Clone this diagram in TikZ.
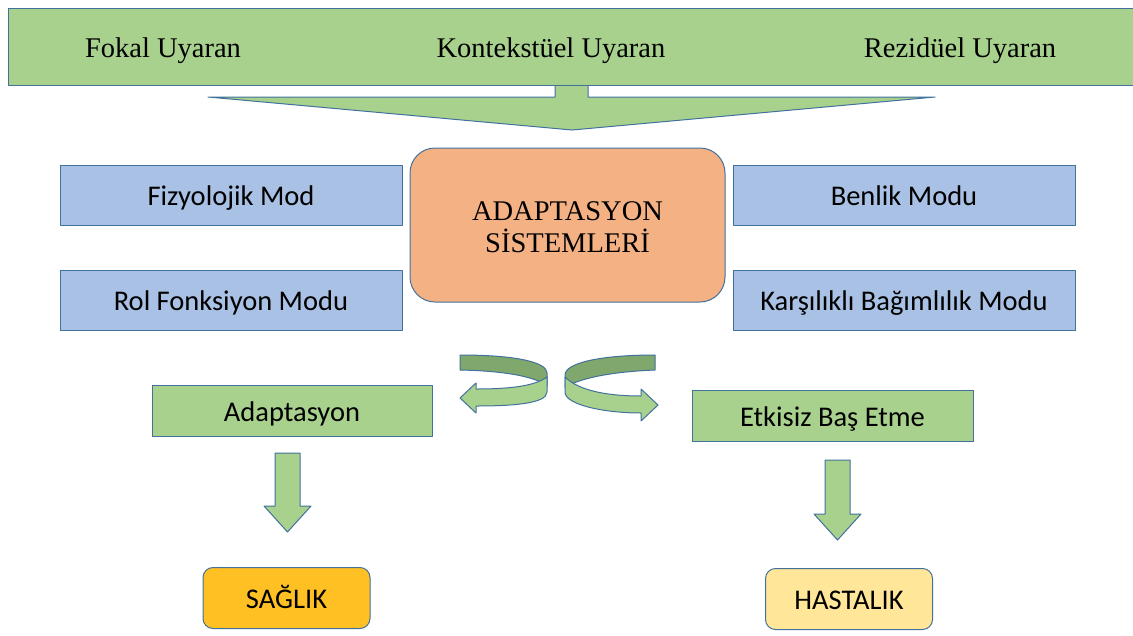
\documentclass[tikz,border=0pt]{standalone}
\usepackage{fontspec}
\setmainfont{Liberation Serif}
\newfontfamily\calib{Carlito}
\definecolor{gfill}{HTML}{A9D18E}
\definecolor{bfill}{HTML}{A9C1E4}
\definecolor{ofill}{HTML}{F4B183}
\definecolor{edgec}{HTML}{41719C}
\definecolor{dkg}{HTML}{80A86C}
\definecolor{yfill}{HTML}{FFC023}
\definecolor{lyfill}{HTML}{FFE699}
\begin{document}
\begin{tikzpicture}[x=1pt,y=-1pt,
  every node/.style={inner sep=0pt, outer sep=0pt},
  shp/.style={draw=edgec, line width=1pt, line join=round},
  sansfont/.style={font=\calib\fontsize{28.5}{32}\selectfont, text height=23pt, text depth=2pt},
  bluebox/.style={shp, sansfont, fill=bfill, minimum width=342pt, minimum height=60pt},
  greenbox/.style={shp, sansfont, fill=gfill, minimum height=51pt},
  endbox/.style={shp, sansfont, rounded corners=10pt, minimum width=167pt, minimum height=61pt},
  stxt/.style={font=\fontsize{28.5}{32}\selectfont, anchor=base},
  blockarrow/.style={shp, fill=gfill}]
\useasboundingbox (0,0) rectangle (1133,635);
% big top arrow
\draw[blockarrow] (555,84) -- (555,97) -- (208,97) -- (572,130) -- (935,97) -- (588,97) -- (588,84);
% banner
\node[shp, fill=gfill, minimum width=1140pt, minimum height=77pt, anchor=north west] (banner) at (8,8) {};
\node[stxt] (fokal) at (163,57) {Fokal Uyaran};
\node[stxt] (kontekst) at (551,57) {Kontekstüel Uyaran};
\node[stxt] (rezid) at (960,57) {Rezidüel Uyaran};
% modes
\node[bluebox] (fiz) at (231,195) {Fizyolojik Mod};
\node[bluebox] (rol) at (231,300) {Rol Fonksiyon Modu};
\node[bluebox] (benlik) at (904,195) {Benlik Modu};
\node[bluebox] (karsi) at (904,300) {Karşılıklı Bağımlılık Modu};
\node[shp, fill=ofill, rounded corners=25pt, minimum width=315pt, minimum height=154pt,
      align=center, font=\fontsize{28.5}{32}\selectfont] (sys) at (567.5,225) {\rule{0pt}{24pt}ADAPTASYON\\SİSTEMLERİ};
% outcomes
\node[greenbox, minimum width=280pt] (adapt) at (292,411) {Adaptasyon};
\node[greenbox, minimum width=281pt] (etkisiz) at (832.5,416) {Etkisiz Baş Etme};
\node[endbox, fill=yfill] (saglik) at (286.5,598) {SAĞLIK};
\node[endbox, fill=lyfill] (hasta) at (849,599) {HASTALIK};
% down arrows
\draw[blockarrow] (275,453) -- (300,453) -- (300,506) -- (311,506) -- (287.5,532) -- (264,506) -- (275,506) -- cycle;
\draw[blockarrow] (825,460) -- (850,460) -- (850,514) -- (861,514) -- (837.5,540) -- (814,514) -- (825,514) -- cycle;
% curved arrow, left
\draw[shp, fill=dkg] (460,355) .. controls (515,355) and (547,362) .. (547,373) -- (547,386) .. controls (538,378) and (510,371) .. (460,370) -- cycle;
\draw[shp, fill=gfill] (547,377) -- (547,392) .. controls (547,404) and (510,406) .. (476,406) -- (476,413) -- (460,398) -- (476,383) -- (476,389) .. controls (510,389) and (535,386) .. (547,377) -- cycle;
% curved arrow, right
\draw[shp, fill=dkg] (655,355) .. controls (600,355) and (565,363) .. (565,375) -- (565,388) .. controls (575,380) and (605,372) .. (655,370) -- cycle;
\draw[shp, fill=gfill] (565,377) -- (565,392) .. controls (565,405) and (605,413) .. (641,413) -- (641,421) -- (658,405) -- (641,389) -- (641,396) .. controls (605,396) and (578,390) .. (565,377) -- cycle;
\end{tikzpicture}
\end{document}
